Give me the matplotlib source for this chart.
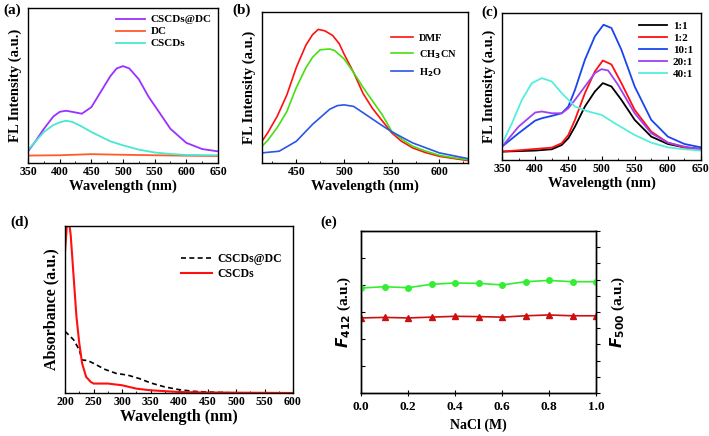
import matplotlib
matplotlib.use("Agg")
import matplotlib.pyplot as plt
from matplotlib.ticker import MultipleLocator

plt.rcParams['font.family'] = ['Liberation Serif', 'DejaVu Serif']
plt.rcParams['font.weight'] = 'bold'
plt.rcParams['axes.linewidth'] = 1.0

# (a) fluorescence of CSCDs@DC, DC, CSCDs
a_x_dcdc = [350, 360, 375, 390, 400, 410, 420, 435, 450, 465, 480, 490, 500, 510, 525, 540, 550, 575, 600, 625, 650]
a_y_dcdc = [0.075, 0.13, 0.22, 0.30, 0.33, 0.337, 0.33, 0.318, 0.36, 0.46, 0.56, 0.61, 0.625, 0.61, 0.54, 0.43, 0.37, 0.22, 0.13, 0.09, 0.075]
a_x_cscd = [350, 360, 375, 390, 400, 410, 420, 435, 450, 465, 480, 500, 525, 550, 575, 600, 650]
a_y_cscd = [0.084, 0.13, 0.2, 0.245, 0.262, 0.273, 0.265, 0.235, 0.2, 0.17, 0.14, 0.114, 0.086, 0.068, 0.058, 0.052, 0.05]
a_x_dc = [350, 400, 450, 500, 550, 600, 650]
a_y_dc = [0.048, 0.05, 0.057, 0.053, 0.05, 0.047, 0.045]

# (b) solvents
b_x_dmf = [414, 420, 430, 440, 450, 460, 467, 473, 480, 488, 495, 500, 510, 520, 530, 540, 550, 560, 572, 585, 600, 615, 630]
b_y_dmf = [0.144, 0.2, 0.31, 0.45, 0.633, 0.78, 0.85, 0.885, 0.875, 0.845, 0.79, 0.722, 0.6, 0.46, 0.36, 0.28, 0.2, 0.145, 0.1, 0.07, 0.044, 0.03, 0.016]
b_x_acn = [414, 420, 430, 440, 450, 460, 467, 475, 485, 490, 500, 510, 520, 530, 540, 550, 560, 572, 585, 600, 615, 630]
b_y_acn = [0.111, 0.15, 0.235, 0.34, 0.5, 0.63, 0.7, 0.75, 0.755, 0.745, 0.69, 0.6, 0.5, 0.41, 0.32, 0.21, 0.16, 0.111, 0.08, 0.051, 0.035, 0.022]
b_x_h2o = [414, 432, 450, 467, 485, 493, 500, 510, 520, 538, 550, 572, 600, 630]
b_y_h2o = [0.067, 0.078, 0.144, 0.256, 0.356, 0.38, 0.385, 0.375, 0.333, 0.256, 0.207, 0.133, 0.067, 0.029]

# (c) ratios
c_x = [350, 400, 425, 440, 450, 460, 475, 490, 502, 515, 530, 550, 575, 600, 625, 650]
c_y_11 = [0.057, 0.064, 0.073, 0.102, 0.148, 0.227, 0.364, 0.466, 0.523, 0.5, 0.409, 0.273, 0.159, 0.109, 0.086, 0.075]
c_y_12 = [0.057, 0.075, 0.084, 0.114, 0.170, 0.273, 0.455, 0.602, 0.677, 0.65, 0.523, 0.341, 0.193, 0.118, 0.085, 0.073]
c_x_101 = [350, 375, 400, 410, 425, 440, 450, 460, 475, 490, 503, 515, 530, 550, 575, 600, 625, 650]
c_y_101 = [0.091, 0.182, 0.268, 0.284, 0.3, 0.318, 0.364, 0.477, 0.682, 0.841, 0.92, 0.898, 0.75, 0.5, 0.273, 0.159, 0.109, 0.086]
c_x_201 = [350, 375, 400, 410, 425, 440, 450, 460, 475, 490, 500, 510, 525, 550, 575, 600, 625, 650]
c_y_201 = [0.091, 0.227, 0.323, 0.33, 0.318, 0.318, 0.352, 0.409, 0.5, 0.591, 0.618, 0.609, 0.511, 0.318, 0.182, 0.118, 0.091, 0.073]
c_x_401 = [350, 365, 380, 395, 410, 425, 440, 460, 480, 500, 520, 550, 575, 600, 625, 650]
c_y_401 = [0.109, 0.25, 0.409, 0.523, 0.557, 0.534, 0.455, 0.364, 0.33, 0.307, 0.25, 0.17, 0.118, 0.086, 0.073, 0.064]

# (d) absorbance
d_x_cscd = [200, 203, 205, 208, 210, 215, 220, 225, 230, 237, 245, 250, 275, 300, 325, 350, 400, 450, 600]
d_y_cscd = [0.836, 0.98, 1.0, 0.99, 0.936, 0.696, 0.456, 0.296, 0.176, 0.096, 0.066, 0.056, 0.056, 0.046, 0.026, 0.016, 0.006, 0.003, 0.0]
d_x_dcdc = [200, 215, 225, 230, 240, 250, 270, 290, 310, 330, 350, 375, 400, 425, 450, 500, 600]
d_y_dcdc = [0.366, 0.316, 0.256, 0.196, 0.192, 0.176, 0.14, 0.116, 0.106, 0.086, 0.06, 0.036, 0.02, 0.01, 0.006, 0.0, 0.0]

# (e) NaCl
e_nacl = [0.0, 0.1, 0.2, 0.3, 0.4, 0.5, 0.6, 0.7, 0.8, 0.9, 1.0]
e_f412 = [2.78, 2.80, 2.78, 2.81, 2.84, 2.83, 2.81, 2.86, 2.89, 2.86, 2.86]
e_f500 = [6.48, 6.56, 6.50, 6.71, 6.79, 6.77, 6.67, 6.87, 6.95, 6.87, 6.87]

W, H = 709, 436
fig = plt.figure(figsize=(W / 100, H / 100), dpi=100)


def px_axes(x0, y0, x1, y1):
    return fig.add_axes([x0 / W, 1 - y1 / H, (x1 - x0) / W, (y1 - y0) / H])


def spectrum_style(ax, xlim, major, minor, tsize=8.5, lsize=10.5):
    ax.set_xlim(*xlim)
    ax.set_ylim(0, 1)
    ax.set_yticks([])
    ax.xaxis.set_major_locator(MultipleLocator(major))
    ax.xaxis.set_minor_locator(MultipleLocator(minor))
    ax.tick_params(axis='x', which='major', direction='in', length=3, labelsize=tsize, pad=2)
    ax.tick_params(axis='x', which='minor', direction='in', length=1.5)
    for lab in ax.get_xticklabels():
        lab.set_fontweight('bold')
    ax.set_xlabel('Wavelength (nm)', fontsize=lsize, fontweight='bold', labelpad=1)
    ax.set_ylabel('FL Intensity (a.u.)', fontsize=lsize, fontweight='bold', labelpad=4)


# panel a
ax = px_axes(28, 8, 218, 163)
ax.plot(a_x_dcdc, a_y_dcdc, color='#9b30ff', lw=1.3, label='CSCDs@DC')
ax.plot(a_x_dc, a_y_dc, color='#ff5a2a', lw=1.3, label='DC')
ax.plot(a_x_cscd, a_y_cscd, color='#48e8d0', lw=1.3, label='CSCDs')
spectrum_style(ax, (350, 650), 50, 25)
ax.legend(loc='upper right', frameon=False, handlelength=2.6,
          labelspacing=0.2, borderaxespad=0.2, handletextpad=0.5,
          prop={'weight': 'bold', 'size': 8})

# panel b
ax = px_axes(262, 12, 468, 163)
ax.plot(b_x_dmf, b_y_dmf, color='#ff1010', lw=1.2, label='DMF')
ax.plot(b_x_acn, b_y_acn, color='#44e010', lw=1.2, label='CH$_\\mathbf{3}$CN')
ax.plot(b_x_h2o, b_y_h2o, color='#2a55e8', lw=1.2, label='H$_\\mathbf{2}$O')
spectrum_style(ax, (414, 630), 50, 25)
ax.legend(loc='upper right', bbox_to_anchor=(0.99, 0.92), frameon=False,
          handlelength=2.2, labelspacing=0.5, handletextpad=0.5,
          prop={'weight': 'bold', 'size': 7.5})

# panel c
ax = px_axes(502, 13, 701, 160)
ax.plot(c_x, c_y_11, color='black', lw=1.3, label='1:1')
ax.plot(c_x, c_y_12, color='#ff1010', lw=1.3, label='1:2')
ax.plot(c_x_101, c_y_101, color='#1a45ee', lw=1.3, label='10:1')
ax.plot(c_x_201, c_y_201, color='#a040f0', lw=1.3, label='20:1')
ax.plot(c_x_401, c_y_401, color='#55eedd', lw=1.3, label='40:1')
spectrum_style(ax, (350, 650), 50, 25)
ax.legend(loc='upper right', frameon=False, handlelength=2.6,
          labelspacing=0.2, borderaxespad=0.3, handletextpad=0.5,
          prop={'weight': 'bold', 'size': 8})

# panel d
ax = px_axes(65, 226, 293, 393)
ax.plot(d_x_dcdc, d_y_dcdc, color='black', lw=1.2, ls=(0, (3, 2)), label='CSCDs@DC')
ax.plot(d_x_cscd, d_y_cscd, color='#ff1010', lw=1.5, label='CSCDs')
spectrum_style(ax, (200, 600), 50, 25, lsize=11.5)
ax.set_ylim(0, 0.99)
ax.set_ylabel('Absorbance (a.u.)', fontsize=11.5, fontweight='bold', labelpad=4)
ax.legend(loc='upper right', bbox_to_anchor=(1.0, 0.9), frameon=False,
          handlelength=2.6, labelspacing=0.2, handletextpad=0.5,
          prop={'weight': 'bold', 'size': 8.5})

# panel e
ax = px_axes(361, 231, 596, 393)
ax.plot(e_nacl, e_f412, color='#cc1010', lw=1.2, marker='^', ms=4.5)
ax.set_xlim(0, 1.0)
ax.set_ylim(0, 6)
ax.yaxis.set_major_locator(MultipleLocator(1))
ax.tick_params(axis='y', direction='in', length=3, labelleft=False)
ax.xaxis.set_major_locator(MultipleLocator(0.2))
ax.tick_params(axis='x', direction='inout', length=5, labelsize=9.5, pad=3)
for lab in ax.get_xticklabels():
    lab.set_fontweight('bold')
ax.set_xlabel('NaCl (M)', fontsize=10, fontweight='bold', labelpad=4)
ax.set_ylabel('$\\boldsymbol{F}_{\\mathbf{412}}$ (a.u.)', fontsize=11, fontweight='bold', labelpad=6)
ax2 = ax.twinx()
ax2.plot(e_nacl, e_f500, color='#33ee33', lw=1.2, marker='o', ms=4)
ax2.set_ylim(0, 10)
ax2.yaxis.set_major_locator(MultipleLocator(1))
ax2.tick_params(axis='y', direction='out', length=3, labelright=False)
ax2.set_ylabel('$\\boldsymbol{F}_{\\mathbf{500}}$ (a.u.)', fontsize=11, fontweight='bold', labelpad=6)

# panel letters
for x, y, s in [(3, 10, '(a)'), (232, 10, '(b)'), (481, 12, '(c)'),
                (10, 222, '(d)'), (320, 222, '(e)')]:
    fig.text(x / W, 1 - y / H, s, fontsize=11, fontweight='bold', va='center', ha='left')

fig.savefig('out.png', dpi=100)
